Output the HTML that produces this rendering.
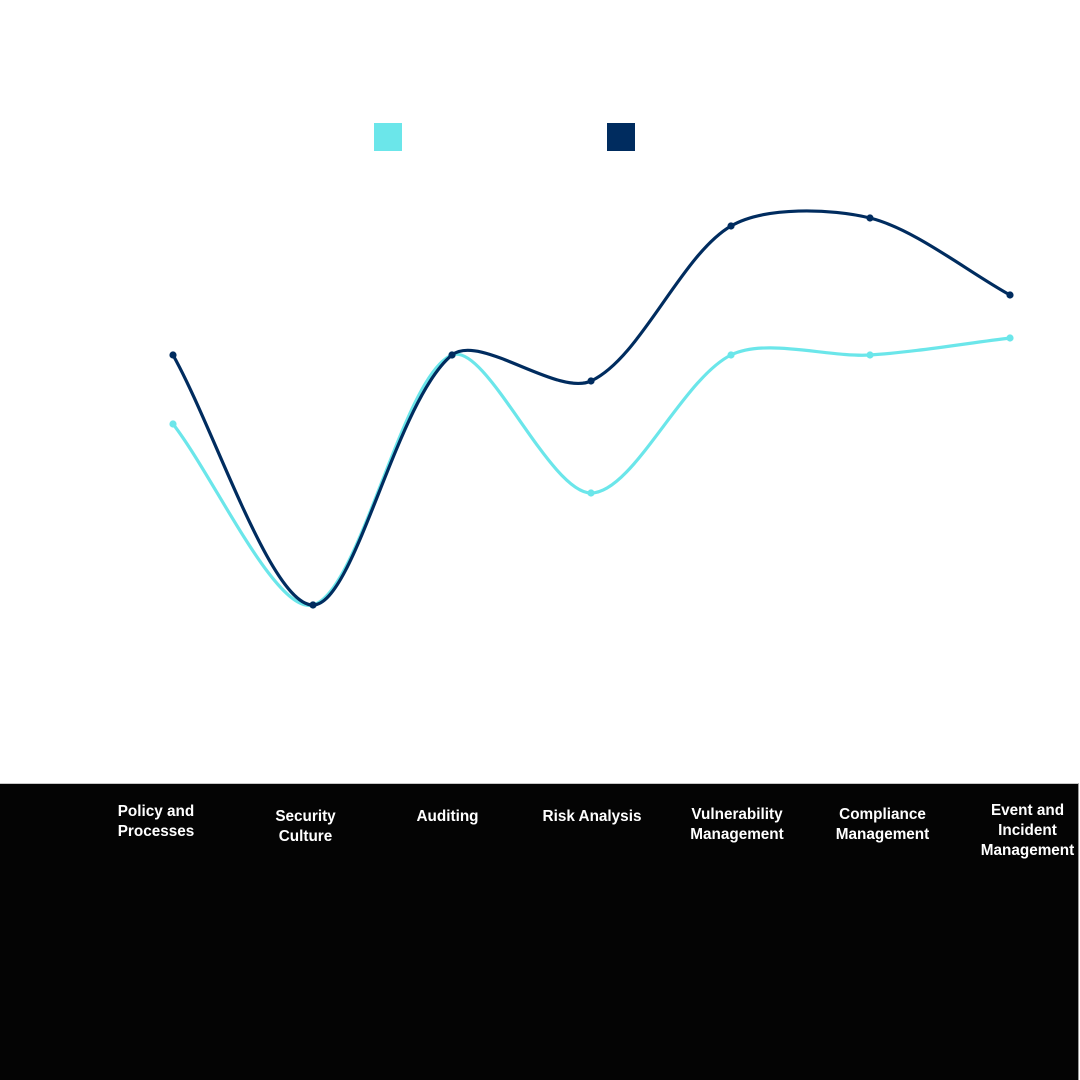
<!DOCTYPE html>
<html>
<head>
<meta charset="utf-8">
<style>
html,body{margin:0;padding:0;background:#fff;}
#wrap{position:relative;width:1080px;height:1080px;overflow:hidden;background:#fff;font-family:"Liberation Sans",Arial,sans-serif;}
#bottom{position:absolute;left:0;top:783px;width:1079px;height:297px;background:#040404;border-top:1px solid #c8c8c8;border-right:1px solid #9a9a9a;box-sizing:border-box;}
.lab{position:absolute;width:160px;margin-left:-80px;text-align:center;color:#fff;font-weight:bold;font-size:15.3px;line-height:20px;white-space:nowrap;}
svg{position:absolute;left:0;top:0;}
</style>
</head>
<body>
<div id="wrap">
<div id="bottom"></div>
<svg width="1080" height="1080" viewBox="0 0 1080 1080">
  <rect x="374" y="123" width="28" height="28" fill="#6be6ea"/>
  <rect x="607" y="123" width="28" height="28" fill="#002c5f"/>
  <path d="M173,424 C215,478.3 275.8,614.2 313,605 C359.5,593.5 402.5,374.9 452,355 C485.9,341.3 549.2,493 591,493 C632.9,493 682,379.3 731,355 C765.7,337.8 828.5,357.5 870,355 C912.2,352.4 968,343.1 1010,338" fill="none" stroke="#6be6ea" stroke-width="3.2" stroke-linecap="round" stroke-linejoin="round"/>
  <g fill="#6be6ea">
    <circle cx="173" cy="424" r="3.6"/><circle cx="313" cy="605" r="3.6"/><circle cx="452" cy="355" r="3.6"/><circle cx="591" cy="493" r="3.6"/><circle cx="731" cy="355" r="3.6"/><circle cx="870" cy="355" r="3.6"/><circle cx="1010" cy="338" r="3.6"/>
  </g>
  <path d="M173,355 C215,430 271.1,605 313,605 C354.8,605 396.2,400 452,355 C479.6,332.8 557.2,396.6 591,381 C640.9,357.9 680.8,255.3 731,226 C764.5,206.4 831,208.4 870,218 C914.7,229.1 968,271.9 1010,295" fill="none" stroke="#002c5f" stroke-width="3.2" stroke-linecap="round" stroke-linejoin="round"/>
  <g fill="#002c5f">
    <circle cx="173" cy="355" r="3.6"/><circle cx="313" cy="605" r="3.6"/><circle cx="452" cy="355" r="3.6"/><circle cx="591" cy="381" r="3.6"/><circle cx="731" cy="226" r="3.6"/><circle cx="870" cy="218" r="3.6"/><circle cx="1010" cy="295" r="3.6"/>
  </g>
</svg>
<div class="lab" style="left:156px;top:802px;">Policy and<br>Processes</div>
<div class="lab" style="left:305.5px;top:807px;">Security<br>Culture</div>
<div class="lab" style="left:447.5px;top:807px;">Auditing</div>
<div class="lab" style="left:592px;top:807px;">Risk Analysis</div>
<div class="lab" style="left:737px;top:805px;">Vulnerability<br>Management</div>
<div class="lab" style="left:882.5px;top:805px;">Compliance<br>Management</div>
<div class="lab" style="left:1027.5px;top:801px;">Event and<br>Incident<br>Management</div>
</div>
</body>
</html>
